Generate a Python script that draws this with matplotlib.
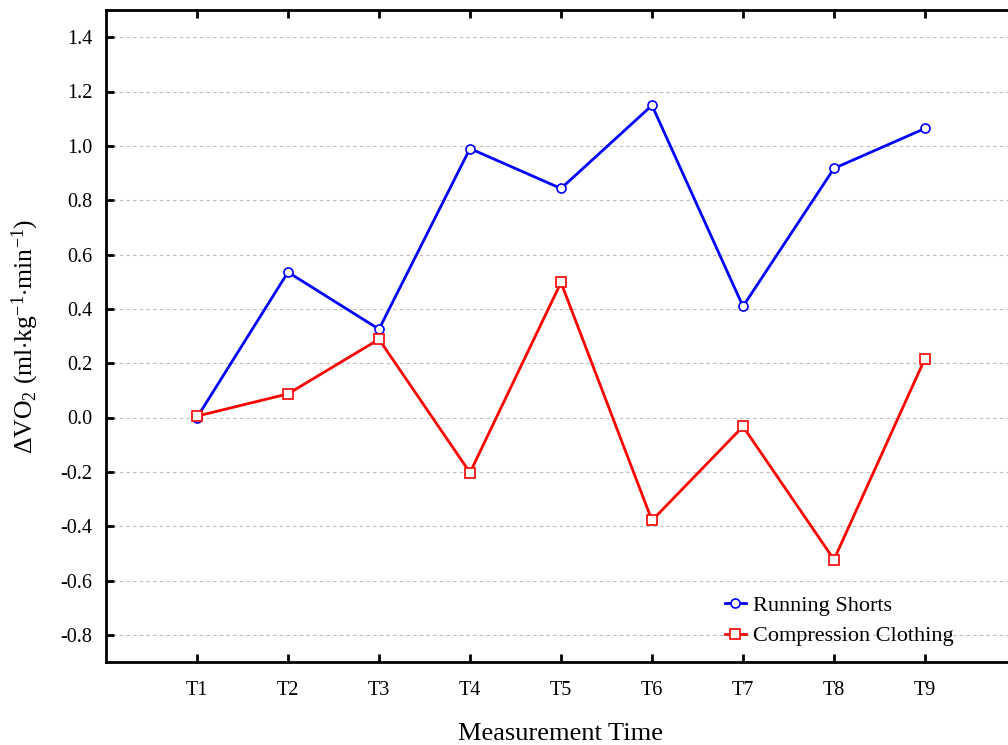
import matplotlib
matplotlib.use("Agg")
import matplotlib.pyplot as plt

times = ["T1", "T2", "T3", "T4", "T5", "T6", "T7", "T8", "T9"]
running_shorts = [0.0, 0.535, 0.325, 0.99, 0.843, 1.149, 0.409, 0.917, 1.064]
compression = [0.005, 0.087, 0.288, -0.203, 0.497, -0.379, -0.033, -0.523, 0.217]
yticks = [-0.8, -0.6, -0.4, -0.2, 0.0, 0.2, 0.4, 0.6, 0.8, 1.0, 1.2, 1.4]

plt.rcParams['font.family'] = ['Liberation Serif', 'DejaVu Serif']
plt.rcParams['mathtext.fontset'] = 'custom'
plt.rcParams['mathtext.rm'] = 'Liberation Serif'
plt.rcParams['mathtext.it'] = 'Liberation Serif:italic'

fig = plt.figure(figsize=(10.08, 7.45), dpi=100)
ax = fig.add_axes([106/1008, 1 - 662/745, 910/1008, 652/745])

x = list(range(1, len(times) + 1))
ax.plot(x, running_shorts, color='#0000ff', lw=2, marker='o', ms=6.5,
        mfc='white', mec='#0000ff', mew=1.2, label='Running Shorts', zorder=3)
ax.plot(x, compression, color='#ff0000', lw=2, marker='s', ms=6.5,
        mfc='white', mec='#ff0000', mew=1.2, label='Compression Clothing', zorder=3)

ax.set_xlim(0, 10)
ax.set_ylim(-0.9, 1.5)
ax.set_xticks(x)
ax.set_xticklabels(times)
ax.set_yticks(yticks)
ax.set_yticklabels([f"{v:.1f}" for v in yticks])
ax.yaxis.grid(True, linestyle=(0, (3, 3)), color='#bbbbbb', lw=0.8)
ax.set_axisbelow(True)

for s in ['left', 'bottom', 'top']:
    ax.spines[s].set_linewidth(2)
ax.spines['right'].set_visible(False)
ax.tick_params(axis='both', direction='in', length=6, width=2, labelsize=14.5,
               top=True, right=False, pad=10)
ax.tick_params(axis='x', pad=14)

ax.set_xlabel('Measurement Time', fontsize=19, labelpad=16)
ax.set_ylabel(r'$\Delta$VO$_2$ (ml$\cdot$kg$^{-1}$$\cdot$min$^{-1}$)', fontsize=18.5, labelpad=14)

ax.legend(loc='upper left', bbox_to_anchor=(0.658, 0.133), frameon=False,
          fontsize=16, handlelength=0.95, handletextpad=0.3, labelspacing=0.45)

fig.savefig('out.png', dpi=100)
